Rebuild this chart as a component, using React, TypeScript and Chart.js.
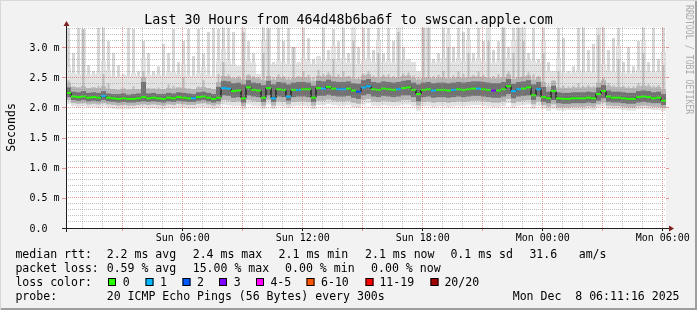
import React, { useEffect, useRef } from 'react';
import { Chart, registerables } from 'chart.js';

Chart.register(...registerables);

// ---------- data (ms) ----------
// 15-minute bins starting Sun 00:11:16 (hours since Sun 00:00)
const startHour = 11.2667 / 60;
const stepHours = 0.25;
const spanHours = 30;

const medianRtt = [
  2.24, 2.18, 2.17, 2.18, 2.16, 2.17, 2.16, 2.19, 2.16, 2.15,
  2.14, 2.15, 2.14, 2.14, 2.15, 2.17, 2.15, 2.16, 2.15, 2.14,
  2.16, 2.15, 2.17, 2.16, 2.15, 2.15, 2.17, 2.18, 2.16, 2.14,
  2.16, 2.32, 2.31, 2.27, 2.28, 2.15, 2.33, 2.29, 2.28, 2.16,
  2.32, 2.15, 2.30, 2.29, 2.18, 2.29, 2.29, 2.30, 2.30, 2.16,
  2.32, 2.31, 2.34, 2.31, 2.30, 2.30, 2.31, 2.28, 2.26, 2.33,
  2.35, 2.30, 2.29, 2.31, 2.30, 2.29, 2.30, 2.32, 2.33, 2.29,
  2.22, 2.29, 2.30, 2.28, 2.29, 2.29, 2.28, 2.29, 2.30, 2.29,
  2.30, 2.31, 2.31, 2.30, 2.29, 2.28, 2.28, 2.30, 2.35, 2.27,
  2.30, 2.31, 2.33, 2.20, 2.30, 2.17, 2.15, 2.27, 2.15, 2.14,
  2.14, 2.15, 2.15, 2.15, 2.16, 2.15, 2.22, 2.27, 2.18, 2.16,
  2.16, 2.15, 2.14, 2.14, 2.17, 2.18, 2.17, 2.15, 2.16, 2.11,
];

// lost pings per bin (index into the loss colour legend)
const lossClass = [
  0, 0, 0, 0, 0, 0, 0, 1, 0, 0,
  0, 0, 0, 0, 0, 0, 0, 0, 0, 0,
  0, 0, 0, 0, 0, 1, 0, 0, 0, 0,
  0, 1, 1, 0, 0, 0, 0, 0, 0, 0,
  0, 1, 0, 0, 1, 0, 1, 0, 0, 0,
  0, 1, 0, 0, 1, 1, 0, 0, 2, 1,
  1, 0, 0, 0, 0, 0, 1, 0, 0, 0,
  0, 0, 0, 1, 0, 0, 0, 1, 0, 0,
  0, 0, 1, 0, 0, 3, 0, 0, 0, 1,
  1, 0, 0, 0, 1, 0, 0, 0, 0, 0,
  0, 0, 0, 0, 0, 0, 0, 0, 0, 0,
  0, 0, 0, 0, 0, 0, 0, 0, 0, 0,
];

const smokeMin = [
  2.06, 2.02, 2.00, 2.02, 2.00, 2.01, 1.99, 2.02, 2.00, 1.98,
  1.97, 1.98, 1.97, 1.98, 1.99, 2.00, 1.98, 1.99, 1.98, 1.97,
  1.99, 1.98, 2.00, 1.99, 1.98, 1.98, 2.00, 2.01, 1.99, 1.97,
  1.99, 2.05, 2.04, 2.02, 2.03, 1.97, 2.05, 2.03, 2.02, 1.98,
  2.05, 1.98, 2.03, 2.02, 1.99, 2.02, 2.03, 2.03, 2.02, 1.97,
  2.04, 2.04, 2.06, 2.04, 2.03, 2.03, 2.04, 2.01, 1.99, 2.05,
  2.07, 2.03, 2.02, 2.04, 2.03, 2.02, 2.03, 2.05, 2.05, 2.02,
  1.95, 2.02, 2.03, 2.01, 2.02, 2.02, 2.01, 2.02, 2.03, 2.02,
  2.03, 2.04, 2.04, 2.03, 2.02, 2.01, 2.01, 2.03, 2.07, 2.00,
  2.03, 2.04, 2.05, 1.98, 2.03, 1.98, 1.94, 1.98, 1.95, 1.95,
  1.96, 1.96, 1.96, 1.96, 1.97, 1.96, 2.00, 2.02, 1.98, 1.97,
  1.97, 1.96, 1.95, 1.95, 1.97, 1.98, 1.97, 1.96, 1.96, 1.94,
];

const smokeLow = [
  2.12, 2.07, 2.06, 2.07, 2.05, 2.06, 2.05, 2.07, 2.05, 2.04,
  2.03, 2.04, 2.03, 2.03, 2.04, 2.05, 2.04, 2.05, 2.04, 2.03,
  2.05, 2.04, 2.06, 2.05, 2.04, 2.04, 2.06, 2.07, 2.05, 2.03,
  2.05, 2.12, 2.11, 2.09, 2.10, 2.02, 2.12, 2.10, 2.09, 2.03,
  2.12, 2.03, 2.10, 2.09, 2.05, 2.09, 2.10, 2.10, 2.09, 2.03,
  2.11, 2.11, 2.13, 2.11, 2.10, 2.10, 2.11, 2.08, 2.06, 2.12,
  2.14, 2.10, 2.09, 2.11, 2.10, 2.09, 2.10, 2.12, 2.12, 2.09,
  2.03, 2.09, 2.10, 2.08, 2.09, 2.09, 2.08, 2.09, 2.10, 2.09,
  2.10, 2.11, 2.11, 2.10, 2.09, 2.08, 2.08, 2.10, 2.14, 2.07,
  2.10, 2.11, 2.12, 2.05, 2.10, 2.04, 2.01, 2.05, 2.00, 2.00,
  2.00, 2.01, 2.01, 2.01, 2.02, 2.01, 2.05, 2.08, 2.03, 2.02,
  2.02, 2.01, 2.00, 2.00, 2.02, 2.03, 2.02, 2.01, 2.01, 1.99,
];

const coreLow = [
  2.17, 2.12, 2.11, 2.12, 2.10, 2.11, 2.10, 2.12, 2.10, 2.09,
  2.08, 2.09, 2.08, 2.08, 2.09, 2.10, 2.09, 2.10, 2.09, 2.08,
  2.10, 2.09, 2.11, 2.10, 2.09, 2.09, 2.11, 2.12, 2.10, 2.08,
  2.10, 2.20, 2.19, 2.16, 2.17, 2.08, 2.20, 2.18, 2.17, 2.09,
  2.20, 2.09, 2.18, 2.17, 2.11, 2.17, 2.18, 2.18, 2.17, 2.09,
  2.19, 2.19, 2.21, 2.19, 2.18, 2.18, 2.19, 2.16, 2.14, 2.20,
  2.22, 2.18, 2.17, 2.19, 2.18, 2.17, 2.18, 2.20, 2.20, 2.17,
  2.10, 2.17, 2.18, 2.16, 2.17, 2.17, 2.16, 2.17, 2.18, 2.17,
  2.18, 2.19, 2.19, 2.18, 2.17, 2.16, 2.16, 2.18, 2.22, 2.15,
  2.18, 2.19, 2.20, 2.12, 2.18, 2.09, 2.07, 2.12, 2.07, 2.06,
  2.06, 2.07, 2.07, 2.07, 2.08, 2.07, 2.11, 2.15, 2.09, 2.08,
  2.08, 2.07, 2.06, 2.06, 2.08, 2.09, 2.08, 2.07, 2.07, 2.04,
];

const coreHigh = [
  2.33, 2.26, 2.25, 2.27, 2.24, 2.25, 2.24, 2.27, 2.23, 2.22,
  2.22, 2.23, 2.21, 2.22, 2.23, 2.42, 2.23, 2.24, 2.22, 2.22,
  2.24, 2.23, 2.25, 2.24, 2.23, 2.22, 2.25, 2.26, 2.24, 2.22,
  2.34, 2.44, 2.43, 2.40, 2.41, 2.38, 2.45, 2.41, 2.40, 2.37,
  2.44, 2.38, 2.42, 2.41, 2.38, 2.41, 2.42, 2.42, 2.41, 2.36,
  2.44, 2.43, 2.46, 2.43, 2.42, 2.42, 2.43, 2.40, 2.39, 2.45,
  2.47, 2.42, 2.41, 2.43, 2.42, 2.41, 2.42, 2.44, 2.45, 2.41,
  2.38, 2.41, 2.42, 2.40, 2.41, 2.41, 2.40, 2.41, 2.42, 2.41,
  2.42, 2.43, 2.43, 2.42, 2.41, 2.40, 2.40, 2.42, 2.47, 2.39,
  2.42, 2.43, 2.45, 2.38, 2.42, 2.34, 2.26, 2.36, 2.25, 2.24,
  2.24, 2.25, 2.25, 2.25, 2.26, 2.25, 2.33, 2.37, 2.28, 2.26,
  2.26, 2.25, 2.24, 2.24, 2.27, 2.28, 2.27, 2.25, 2.26, 2.22,
];

const smokeHigh = [
  2.45, 2.35, 2.33, 3.30, 2.32, 2.33, 2.36, 2.55, 2.40, 2.30,
  2.29, 2.31, 2.30, 2.35, 2.30, 2.60, 2.32, 2.31, 2.33, 2.30,
  2.38, 2.36, 2.33, 2.50, 2.31, 2.30, 2.35, 2.45, 2.32, 2.30,
  2.55, 2.75, 2.55, 2.50, 2.52, 3.25, 2.55, 2.52, 2.50, 2.90,
  3.30, 2.50, 2.55, 2.52, 2.50, 3.00, 2.52, 2.60, 2.54, 2.50,
  2.62, 2.55, 2.58, 2.80, 2.55, 2.60, 2.52, 3.10, 2.50, 2.56,
  2.60, 2.53, 2.90, 2.54, 2.55, 2.52, 3.25, 2.56, 2.58, 2.53,
  2.50, 3.32, 3.32, 2.52, 2.54, 2.60, 3.00, 2.53, 2.60, 2.55,
  2.90, 2.54, 2.60, 2.54, 3.10, 2.52, 2.55, 3.32, 2.60, 2.90,
  3.32, 3.10, 2.58, 2.55, 2.52, 2.90, 2.38, 2.45, 2.60, 2.36,
  2.35, 2.36, 2.40, 2.36, 2.37, 2.36, 3.20, 2.50, 2.40, 2.37,
  2.80, 2.36, 2.35, 2.35, 2.40, 2.90, 2.38, 2.36, 2.37, 2.70,
];

const smokeMax = [
  3.32, 2.90, 3.32, 3.30, 2.70, 2.60, 3.32, 3.32, 3.10, 2.90,
  2.70, 2.55, 3.32, 3.30, 2.60, 3.10, 2.90, 2.60, 2.68, 3.05,
  2.90, 3.30, 2.75, 3.10, 3.30, 2.85, 3.30, 2.90, 3.25, 3.32,
  3.30, 3.32, 3.32, 3.25, 2.68, 3.32, 3.10, 2.90, 2.55, 3.32,
  3.32, 2.75, 3.32, 3.10, 3.32, 3.00, 2.75, 3.32, 3.15, 2.80,
  2.85, 3.32, 2.95, 3.30, 3.10, 3.32, 2.90, 3.32, 3.00, 3.32,
  3.32, 2.95, 3.32, 2.90, 3.32, 3.10, 3.32, 3.00, 2.80, 2.75,
  2.60, 3.32, 3.32, 2.80, 2.90, 3.32, 3.32, 3.00, 3.32, 3.25,
  3.32, 2.90, 3.32, 3.10, 3.32, 2.95, 3.10, 3.32, 3.00, 3.32,
  3.32, 3.32, 2.90, 3.32, 2.80, 3.32, 2.75, 2.60, 3.32, 3.15,
  2.60, 2.68, 3.32, 3.32, 2.95, 3.05, 3.32, 3.32, 2.95, 3.15,
  3.32, 2.75, 3.00, 2.68, 3.10, 3.32, 2.75, 3.32, 2.80, 3.32,
];

// ---------- axis / legend text ----------
const xLabelHours = [6, 12, 18, 24, 30];
const xLabels = ['Sun 06:00', 'Sun 12:00', 'Sun 18:00', 'Mon 00:00', 'Mon 06:00'];
const yLabelValues = [0, 0.5, 1, 1.5, 2, 2.5, 3];
const yLabels = ['0.0', '0.5 m', '1.0 m', '1.5 m', '2.0 m', '2.5 m', '3.0 m'];
const yMax = 3.332;

const titleText = 'Last 30 Hours from 464d48b6ba6f to swscan.apple.com';
const yTitle = 'Seconds';
const watermark = 'RRDTOOL / TOBI OETIKER';
const rttCaption = 'median rtt:';
const rttStats = ['2.2 ms avg', '2.4 ms max', '2.1 ms min', '2.1 ms now', '0.1 ms sd', '31.6', 'am/s'];
const lossCaption = 'packet loss:';
const lossStats = ['0.59 % avg', '15.00 % max', '0.00 % min', '0.00 % now'];
const lossColorCaption = 'loss color:';
const lossLabels = ['0', '1', '2', '3', '4-5', '6-10', '11-19', '20/20'];
const lossColors = ['#26ff00', '#00b8ff', '#0059ff', '#7e00ff', '#ff00ff', '#ff5500', '#ff0000', '#a10000'];
const probeCaption = 'probe:';
const probeText = '20 ICMP Echo Pings (56 Bytes) every 300s';
const stampText = 'Mon Dec  8 06:11:16 2025';

// ---------- layout (pixels) ----------
const W = 697;
const H = 310;
const MONO = '"DejaVu Sans Mono", "Liberation Mono", monospace';
const rttX = [106.7, 192.7, 278.6, 365, 450.4, 529.4, 578.7];
const lossX = [106.7, 192.7, 285.1, 371.1];
const lossBoxX = [108, 145.5, 182.5, 219, 256, 306.5, 365.5, 430.5];
const lossLabelX = [122.7, 160, 197, 233.7, 270.4, 321, 379.4, 444.4];

const gridHours = Array.from({ length: 30 }, (_, i) => i + 1);
const gridYs = Array.from({ length: 34 }, (_, i) => i / 10);

const GRID = 'rgba(143,143,143,0.55)';
const MGRID = 'rgba(222,79,79,0.6)';

const binX = (i: number) => startHour + (i + 0.5) * stepHours;

const rrdPlugin = {
  id: 'rrdFrame',
  beforeDraw(chart: any) {
    const { ctx, chartArea: a } = chart;
    ctx.save();
    ctx.fillStyle = '#f2f2f2';
    ctx.fillRect(0, 0, W, H);
    ctx.fillStyle = '#d8d8d8';
    ctx.fillRect(0, 0, W, 1);
    ctx.fillRect(0, 0, 1, H);
    ctx.fillStyle = '#9e9e9e';
    ctx.fillRect(1, H - 2, W, 2);
    ctx.fillRect(W - 2, 1, 2, H);
    ctx.fillStyle = '#ffffff';
    ctx.fillRect(a.left, a.top, a.right - a.left, a.bottom - a.top);
    ctx.restore();
  },
  afterDraw(chart: any) {
    const { ctx, chartArea: a } = chart;
    const xs = chart.scales.x;
    const ys = chart.scales.y;
    ctx.save();

    // tick marks outside the plot
    ctx.lineWidth = 1;
    gridHours.forEach((h) => {
      const px = Math.round(xs.getPixelForValue(h)) + 0.5;
      if (h % 3 !== 0) return;
      ctx.strokeStyle = h % 6 === 0 ? '#1f1f1f' : MGRID;
      ctx.beginPath();
      ctx.moveTo(px, a.bottom);
      ctx.lineTo(px, a.bottom + 3);
      ctx.stroke();
    });
    yLabelValues.forEach((v) => {
      const py = Math.round(ys.getPixelForValue(v)) + 0.5;
      ctx.strokeStyle = MGRID;
      ctx.beginPath();
      ctx.moveTo(a.left - 4, py);
      ctx.lineTo(a.left, py);
      ctx.moveTo(a.right, py);
      ctx.lineTo(a.right + 3, py);
      ctx.stroke();
    });

    // axes
    ctx.strokeStyle = '#1f1f1f';
    ctx.beginPath();
    ctx.moveTo(a.left - 4, a.bottom + 0.5);
    ctx.lineTo(a.right + 3, a.bottom + 0.5);
    ctx.moveTo(a.left + 0.5, a.bottom + 4);
    ctx.lineTo(a.left + 0.5, a.top - 2);
    ctx.stroke();
    ctx.fillStyle = '#7f1f1f';
    ctx.beginPath();
    ctx.moveTo(a.right + 3, a.bottom - 2.5);
    ctx.lineTo(a.right + 8, a.bottom + 0.5);
    ctx.lineTo(a.right + 3, a.bottom + 3.5);
    ctx.closePath();
    ctx.fill();
    ctx.beginPath();
    ctx.moveTo(a.left - 2.5, a.top - 1);
    ctx.lineTo(a.left + 0.5, a.top - 6);
    ctx.lineTo(a.left + 3.5, a.top - 1);
    ctx.closePath();
    ctx.fill();

    // axis labels
    ctx.fillStyle = '#000';
    ctx.font = `10px ${MONO}`;
    ctx.textBaseline = 'alphabetic';
    ctx.textAlign = 'left';
    yLabelValues.forEach((v, i) => {
      ctx.fillText(yLabels[i], 29.4, ys.getPixelForValue(v) + 3.6);
    });
    ctx.textAlign = 'center';
    xLabelHours.forEach((h, i) => {
      ctx.fillText(xLabels[i], xs.getPixelForValue(h) + 0.5, 241);
    });

    // title
    ctx.font = `13.3px ${MONO}`;
    ctx.fillText(titleText, W / 2, 23.6);

    // y title
    ctx.font = `11.55px ${MONO}`;
    ctx.save();
    ctx.translate(15, 127.5);
    ctx.rotate(-Math.PI / 2);
    ctx.fillText(yTitle, 0, 0);
    ctx.restore();

    // watermark
    ctx.save();
    ctx.fillStyle = '#ababab';
    ctx.font = `9.6px ${MONO}`;
    ctx.textAlign = 'left';
    ctx.translate(686, 5);
    ctx.rotate(Math.PI / 2);
    ctx.scale(0.86, 1);
    ctx.fillText(watermark, 0, 0);
    ctx.restore();

    // legend
    ctx.textAlign = 'left';
    ctx.fillStyle = '#000';
    ctx.font = `11.55px ${MONO}`;
    ctx.fillText(rttCaption, 15.4, 258);
    rttStats.forEach((s, i) => ctx.fillText(s, rttX[i], 258));
    ctx.fillText(lossCaption, 15.4, 272);
    lossStats.forEach((s, i) => ctx.fillText(s, lossX[i], 272));
    ctx.fillText(lossColorCaption, 15.4, 286);
    lossLabels.forEach((s, i) => {
      ctx.fillStyle = lossColors[i];
      ctx.fillRect(lossBoxX[i], 278, 8, 8);
      ctx.strokeStyle = '#000';
      ctx.strokeRect(lossBoxX[i] + 0.5, 278.5, 7, 7);
      ctx.fillStyle = '#000';
      ctx.fillText(s, lossLabelX[i], 286);
    });
    ctx.fillText(probeCaption, 15.4, 299.5);
    ctx.fillText(probeText, 106.7, 299.5);
    ctx.fillText(stampText, 512.7, 299.5);

    ctx.restore();
  },
};

export default function App() {
  const ref = useRef<HTMLCanvasElement>(null);

  useEffect(() => {
    document.body.style.margin = '0';
    const canvas = ref.current;
    if (!canvas) return;

    const band = (lo: number[], hi: number[]) => lo.map((v, i) => ({ x: binX(i), y: [v, hi[i]] }));
    const barCommon = {
      type: 'bar' as const,
      borderWidth: 0,
      barPercentage: 1,
      categoryPercentage: 1,
      grouped: false,
      inflateAmount: 0,
    };

    const chart = new Chart(canvas, {
      type: 'bar',
      data: {
        datasets: [
          {
            ...barCommon,
            label: 'smoke outer spikes',
            data: band(smokeMin, smokeMax) as any,
            backgroundColor: '#d6d6d6',
            barPercentage: 0.6,
            order: 8,
          },
          {
            ...barCommon,
            label: 'smoke outer haze',
            data: band(smokeMin, smokeMax.map((v, i) => Math.min(v, smokeHigh[i] + 0.22))) as any,
            backgroundColor: '#e2e2e2',
            order: 7,
          },
          {
            ...barCommon,
            label: 'smoke mid spikes',
            data: band(smokeLow, smokeHigh) as any,
            backgroundColor: '#bdbdbd',
            barPercentage: 0.4,
            order: 6,
          },
          {
            ...barCommon,
            label: 'smoke mid',
            data: band(smokeLow, smokeHigh.map((v, i) => Math.min(v, coreHigh[i] + 0.08))) as any,
            backgroundColor: '#b6b6b6',
            order: 5,
          },
          {
            ...barCommon,
            label: 'smoke core',
            data: band(coreLow, coreHigh) as any,
            backgroundColor: '#727272',
            order: 4,
          },
          {
            type: 'line',
            label: 'median',
            data: medianRtt.map((v, i) => ({ x: binX(i), y: v })),
            borderColor: '#000000',
            borderWidth: 1,
            stepped: 'middle',
            pointRadius: 0,
            fill: false,
            order: 2,
          },
          {
            type: 'line',
            label: 'loss',
            data: medianRtt.map((v, i) => ({ x: binX(i), y: v })),
            showLine: false,
            pointStyle: 'line',
            pointRadius: 2.5,
            pointBorderWidth: 2,
            pointBorderColor: lossClass.map((c) => lossColors[c]),
            pointBackgroundColor: lossClass.map((c) => lossColors[c]),
            order: 1,
          },
        ] as any,
      },
      options: {
        animation: false,
        responsive: false,
        events: [],
        layout: { padding: { left: 66, right: W - 666, top: 27, bottom: H - 228 } },
        plugins: { legend: { display: false }, tooltip: { enabled: false }, title: { display: false } },
        scales: {
          x: {
            type: 'linear',
            min: startHour,
            max: startHour + spanHours,
            offset: false,
            afterBuildTicks: (scale: any) => {
              scale.ticks = gridHours.map((v) => ({ value: v }));
            },
            ticks: { display: false },
            grid: {
              offset: false,
              drawTicks: false,
              z: 1,
              lineWidth: 1,
              color: (c: any) => (c.tick && c.tick.value % 3 === 0 ? MGRID : GRID),
            },
            border: { display: false, dash: [1, 1] },
          },
          y: {
            type: 'linear',
            min: 0,
            max: yMax,
            afterBuildTicks: (scale: any) => {
              scale.ticks = gridYs.map((v) => ({ value: v }));
            },
            ticks: { display: false },
            grid: {
              drawTicks: false,
              z: 1,
              lineWidth: 1,
              color: (c: any) => {
                if (!c.tick) return GRID;
                const t = Math.round(c.tick.value * 10);
                if (t === 0) return 'rgba(0,0,0,0)';
                return t % 5 === 0 ? MGRID : GRID;
              },
            },
            border: { display: false, dash: [1, 1] },
          },
        },
      } as any,
      plugins: [rrdPlugin],
    });

    return () => chart.destroy();
  }, []);

  return (
    <div style={{ position: 'absolute', left: 0, top: 0, width: W, height: H }}>
      <canvas ref={ref} width={W} height={H} style={{ display: 'block', width: W, height: H }} />
    </div>
  );
}
